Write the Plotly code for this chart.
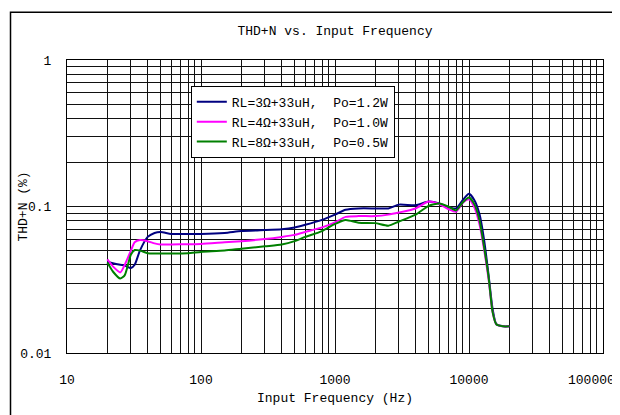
import plotly.graph_objects as go

freq = [20, 22, 25, 27, 30, 32, 35, 40, 45, 50, 60, 80, 100, 150, 200, 300, 400, 500,
        600, 800, 1000, 1200, 1500, 2000, 2500, 3000, 4000, 5000, 6000, 7000, 8000,
        9000, 10000, 11000, 12000, 13000, 14000, 15000, 16000, 18000, 20000]

thd_3ohm = [0.042, 0.041, 0.040, 0.0395, 0.038, 0.040, 0.050, 0.062, 0.066, 0.067, 0.065,
            0.065, 0.065, 0.066, 0.068, 0.069, 0.070, 0.072, 0.075, 0.081, 0.088, 0.095,
            0.097, 0.097, 0.097, 0.103, 0.102, 0.108, 0.105, 0.099, 0.097, 0.111, 0.122,
            0.110, 0.088, 0.058, 0.034, 0.020, 0.0157, 0.0152, 0.0152]

thd_4ohm = [0.0435, 0.039, 0.0355, 0.040, 0.050, 0.057, 0.059, 0.058, 0.056, 0.055, 0.055,
            0.0553, 0.0555, 0.057, 0.058, 0.060, 0.062, 0.064, 0.067, 0.072, 0.078, 0.085,
            0.086, 0.086, 0.088, 0.091, 0.097, 0.108, 0.104, 0.096, 0.092, 0.106, 0.112,
            0.098, 0.075, 0.050, 0.032, 0.019, 0.0157, 0.0152, 0.0152]

thd_8ohm = [0.0414, 0.036, 0.0322, 0.034, 0.047, 0.0505, 0.050, 0.048, 0.0477, 0.0477, 0.0477,
            0.048, 0.049, 0.050, 0.0515, 0.0535, 0.055, 0.058, 0.062, 0.068, 0.076, 0.081,
            0.0775, 0.077, 0.074, 0.079, 0.088, 0.101, 0.105, 0.100, 0.094, 0.107, 0.115,
            0.103, 0.080, 0.052, 0.033, 0.019, 0.0157, 0.0152, 0.0152]

series_names = ["RL=3Ω+33uH,\u00a0\u00a0Po=1.2W",
                "RL=4Ω+33uH,\u00a0\u00a0Po=1.0W",
                "RL=8Ω+33uH,\u00a0\u00a0Po=0.5W"]
series_colors = ["#000080", "#FF00FF", "#008000"]

x_decades = [10, 100, 1000, 10000, 100000]
x_labels = ["10", "100", "1000", "10000", "100000"]
y_decades = [0.01, 0.1, 1]
y_labels = ["0.01", "0.1", "1"]

def grid_vals(decades):
    vals = []
    for d in decades[:-1]:
        for m in range(1, 10):
            vals.append(d * m)
    vals.append(decades[-1])
    return vals

def grid_text(decades, labels, skip_last=False):
    vals = grid_vals(decades)
    out = []
    for v in vals:
        lab = ""
        for i, (d, l) in enumerate(zip(decades, labels)):
            if skip_last and i == len(decades) - 1:
                continue
            if abs(v - d) / d < 1e-9:
                lab = l
        out.append(lab)
    return out

FONT = "Liberation Mono, DejaVu Sans Mono, monospace"

fig = go.Figure()
for name, ys, col in zip(series_names, [thd_3ohm, thd_4ohm, thd_8ohm], series_colors):
    fig.add_trace(go.Scatter(x=freq, y=ys, mode="lines", name=name,
                             line=dict(color=col, width=2, shape="spline", smoothing=0.6)))

fig.update_layout(
    width=612, height=407,
    margin=dict(l=54, r=17, t=52, b=60),
    paper_bgcolor="white", plot_bgcolor="white",
    font=dict(family=FONT, size=13, color="black"),
    title=dict(text="THD+N vs.\u00a0Input Frequency", x=0.5, xref="paper", y=0.945,
               yanchor="middle", xanchor="center",
               font=dict(family=FONT, size=13, color="black")),
    showlegend=True,
    legend=dict(x=0.231, y=0.912, xanchor="left", yanchor="top",
                bgcolor="white", bordercolor="black", borderwidth=1,
                font=dict(family=FONT, size=13, color="black"),
                tracegroupgap=0, itemwidth=30),
    xaxis=dict(type="log", range=[1, 5], tickmode="array",
               tickvals=grid_vals(x_decades),
               ticktext=grid_text(x_decades, x_labels, skip_last=True),
               showgrid=True, gridcolor="#111111", gridwidth=1,
               showline=True, linecolor="black", linewidth=1, mirror=True,
               ticks="", ticklabelstandoff=14, zeroline=False,
               title=dict(text="Input Frequency (Hz)", standoff=6,
                          font=dict(family=FONT, size=13))),
    yaxis=dict(type="log", range=[-2, 0], tickmode="array",
               tickvals=grid_vals(y_decades), ticktext=grid_text(y_decades, y_labels),
               showgrid=True, gridcolor="#111111", gridwidth=1,
               showline=True, linecolor="black", linewidth=1, mirror=True,
               ticks="", ticklabelstandoff=12, zeroline=False),
    shapes=[dict(type="rect", xref="paper", yref="paper", x0=-0.1054, x1=1.2,
                 y0=-0.3, y1=1.1627, line=dict(color="black", width=1.5),
                 fillcolor="rgba(0,0,0,0)", layer="below")],
    annotations=[
        dict(text="THD+N (%)", xref="paper", yref="paper", x=-0.082, y=0.5,
             textangle=-90, showarrow=False, xanchor="center", yanchor="middle",
             font=dict(family=FONT, size=13, color="black")),
        dict(text=x_labels[-1], xref="paper", yref="paper", x=1.027, y=-0.095,
             showarrow=False, xanchor="right", yanchor="middle",
             font=dict(family=FONT, size=13, color="black")),
    ],
)

fig.write_html("out.html")
